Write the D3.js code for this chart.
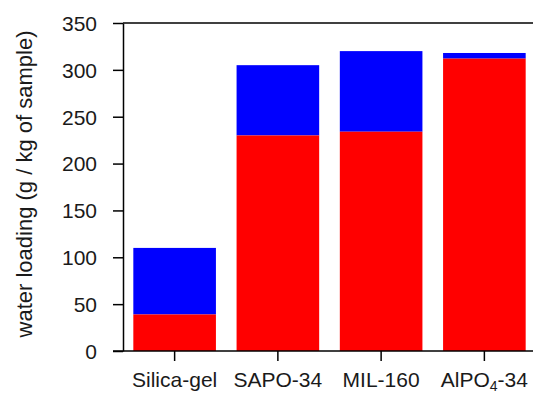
<!DOCTYPE html>
<html>
<head>
<meta charset="utf-8">
<script src="https://d3js.org/d3.v7.min.js"></script>
<style>
  * { margin: 0; padding: 0; }
  body { background: #fff; width: 533px; height: 394px; overflow: hidden; }
  text { font-family: "Liberation Sans", Arial, sans-serif; fill: #1a1a1a; }
</style>
</head>
<body>
<div id="chart"></div>
<script>
  // materials, and water loading split into the two parts of each bar
  let materials = ["Silica-gel", "SAPO-34", "MIL-160", "AlPO4-34"];
  let lowerPart = [39, 230, 234, 312];
  let totalLoading = [110, 305, 320, 318];
  let yTicks = [0, 50, 100, 150, 200, 250, 300, 350];

  let W = 533, H = 394;
  let margin = { top: 23, right: -3, bottom: 43, left: 123 };
  let width = W - margin.left - margin.right,
      height = H - margin.top - margin.bottom;

  let svg = d3.select("#chart").append("svg")
      .attr("width", W)
      .attr("height", H)
      .append("g")
      .attr("transform", "translate(" + margin.left + "," + margin.top + ")");

  let x = d3.scaleBand()
      .domain(materials)
      .range([0, width])
      .paddingInner(0.2)
      .paddingOuter(0.1);

  let y = d3.scaleLinear()
      .domain([0, 350])
      .range([height, 0]);

  let data = materials.map((m, i) => ({ name: m, low: lowerPart[i], total: totalLoading[i] }));

  // blue (upper) part
  svg.selectAll(".upper")
      .data(data)
      .enter()
      .append("rect")
      .attr("class", "upper")
      .attr("x", d => x(d.name))
      .attr("width", x.bandwidth())
      .attr("y", d => y(d.total))
      .attr("height", d => y(d.low) - y(d.total))
      .attr("fill", "#0000ff");

  // red (lower) part
  svg.selectAll(".lower")
      .data(data)
      .enter()
      .append("rect")
      .attr("class", "lower")
      .attr("x", d => x(d.name))
      .attr("width", x.bandwidth())
      .attr("y", d => y(d.low))
      .attr("height", d => y(0) - y(d.low))
      .attr("fill", "#ff0000");

  // y axis
  let gy = svg.append("g")
      .call(d3.axisLeft(y).tickValues(yTicks).tickSize(10).tickPadding(16).tickSizeOuter(0));
  gy.select(".domain").attr("stroke", "#000").attr("stroke-width", 1.5);
  gy.selectAll(".tick line").attr("stroke", "#000").attr("stroke-width", 1.5);
  gy.selectAll(".tick text").style("font-size", "21px").attr("dy", "0.35em");

  // top frame line
  svg.append("line")
      .attr("x1", 0).attr("x2", width + 10)
      .attr("y1", y(350)).attr("y2", y(350))
      .attr("stroke", "#000").attr("stroke-width", 1.5);

  // x axis
  let gx = svg.append("g")
      .attr("transform", "translate(0," + height + ")")
      .call(d3.axisBottom(x).tickSize(10).tickSizeOuter(0).tickFormat(""));
  gx.select(".domain").attr("d", "M-10,0H" + (width + 10))
      .attr("stroke", "#000").attr("stroke-width", 1.5);
  gx.selectAll(".tick line").attr("stroke", "#000").attr("stroke-width", 1.5);

  // category labels, AlPO4 with subscript
  gx.selectAll(".tick").each(function (d) {
    let t = d3.select(this).append("text")
        .attr("y", 36)
        .attr("text-anchor", "middle")
        .style("font-size", "21px");
    if (d === "AlPO4-34") {
      t.append("tspan").text("AlPO");
      t.append("tspan").text("4").attr("dy", 4).style("font-size", "14px");
      t.append("tspan").text("-34").attr("dy", -4);
    } else {
      t.text(d);
    }
  });

  // y label
  svg.append("text")
      .attr("transform", "rotate(-90)")
      .attr("x", -(height / 2) + 3)
      .attr("y", -margin.left + 32)
      .attr("text-anchor", "middle")
      .style("font-size", "22px")
      .text("water loading (g / kg of sample)");
</script>
</body>
</html>
